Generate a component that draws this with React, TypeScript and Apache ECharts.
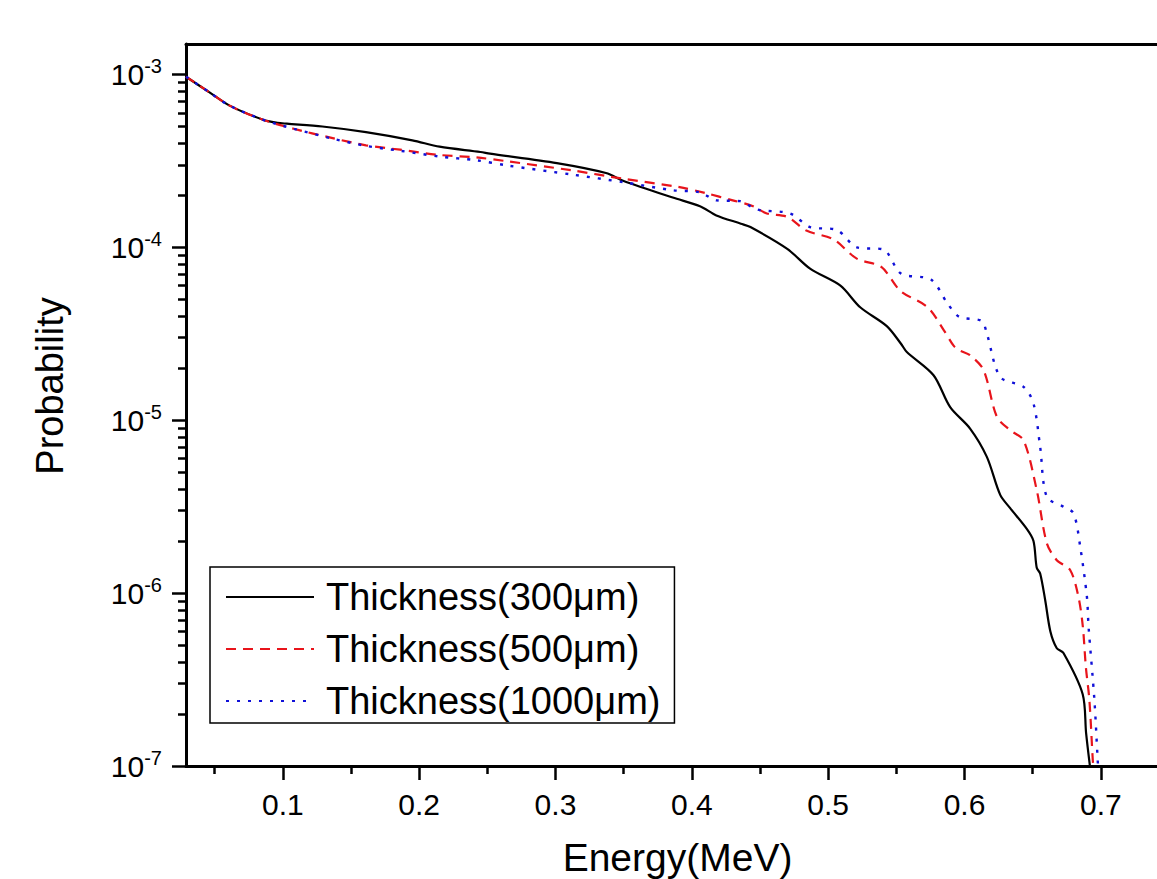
import React, { useEffect, useRef } from "react";
import * as echarts from "echarts";

const FONT = "'Liberation Sans', Arial, sans-serif";

const seriesNames = ["Thickness(300μm)", "Thickness(500μm)", "Thickness(1000μm)"];

const energy300 = [
  0.029, 0.046, 0.061, 0.0855, 0.096, 0.103, 0.129, 0.161, 0.195, 0.215, 0.245, 0.252,
  0.301, 0.337, 0.35, 0.386, 0.406, 0.418, 0.436, 0.443, 0.47, 0.487, 0.509, 0.5235,
  0.543, 0.5534, 0.5577, 0.5773, 0.5895, 0.6041, 0.6164, 0.6262, 0.6335, 0.6457, 0.6506,
  0.653, 0.6555, 0.6592, 0.663, 0.6677, 0.6726, 0.6867, 0.6892, 0.692,
];
const prob300 = [
  9.7e-4, 7.9e-4, 6.6e-4, 5.47e-4, 5.25e-4, 5.19e-4, 5.0e-4, 4.64e-4, 4.16e-4, 3.82e-4, 3.56e-4, 3.48e-4,
  3.07e-4, 2.69e-4, 2.42e-4, 1.94e-4, 1.73e-4, 1.53e-4, 1.37e-4, 1.31e-4, 9.8e-5, 7.5e-5, 6.0e-5, 4.5e-5,
  3.5e-5, 2.77e-5, 2.48e-5, 1.82e-5, 1.19e-5, 8.95e-6, 6.14e-6, 3.7e-6, 3.1e-6, 2.35e-6, 2.0e-6,
  1.4e-6, 1.3e-6, 9.1e-7, 6.0e-7, 4.8e-7, 4.5e-7, 2.6e-7, 1.55e-7, 1.0e-7,
];

const energy500 = [
  0.029, 0.046, 0.061, 0.0855, 0.108, 0.135, 0.161, 0.186, 0.215, 0.242, 0.264, 0.313,
  0.35, 0.391, 0.41, 0.43, 0.445, 0.455, 0.47, 0.484, 0.504, 0.521, 0.539, 0.553,
  0.573, 0.585, 0.592, 0.5962, 0.604, 0.614, 0.6237, 0.6335, 0.6433, 0.653, 0.6604,
  0.6677, 0.6775, 0.6836, 0.6868, 0.689, 0.6916, 0.6941, 0.6945,
];
const prob500 = [
  9.7e-4, 7.9e-4, 6.6e-4, 5.47e-4, 4.85e-4, 4.31e-4, 3.89e-4, 3.67e-4, 3.42e-4, 3.31e-4, 3.15e-4, 2.78e-4,
  2.49e-4, 2.23e-4, 2.06e-4, 1.87e-4, 1.73e-4, 1.57e-4, 1.5e-4, 1.25e-4, 1.11e-4, 8.6e-5, 7.7e-5, 5.6e-5,
  4.5e-5, 3.3e-5, 2.7e-5, 2.54e-5, 2.38e-5, 1.95e-5, 1.05e-5, 8.75e-6, 7.66e-6, 3.94e-6, 1.94e-6,
  1.55e-6, 1.36e-6, 9.5e-7, 6.4e-7, 3.75e-7, 2.41e-7, 1.08e-7, 1.0e-7,
];

const energy1000 = [
  0.029, 0.046, 0.061, 0.0855, 0.108, 0.135, 0.161, 0.186, 0.215, 0.242, 0.264, 0.313,
  0.35, 0.386, 0.406, 0.418, 0.4355, 0.4452, 0.4501, 0.4721, 0.4868, 0.5064, 0.521, 0.5406,
  0.5534, 0.5754, 0.5876, 0.5962, 0.6125, 0.6164, 0.6262, 0.6433, 0.6506, 0.6555, 0.6604,
  0.6726, 0.68, 0.6849, 0.6898, 0.691, 0.6953, 0.6977, 0.698,
];
const prob1000 = [
  9.7e-4, 7.9e-4, 6.6e-4, 5.47e-4, 4.85e-4, 4.28e-4, 3.86e-4, 3.62e-4, 3.35e-4, 3.19e-4, 2.98e-4, 2.63e-4,
  2.38e-4, 2.14e-4, 2.08e-4, 1.87e-4, 1.85e-4, 1.69e-4, 1.64e-4, 1.57e-4, 1.31e-4, 1.26e-4, 1.0e-4, 9.7e-5,
  7.05e-5, 6.51e-5, 4.73e-5, 3.96e-5, 3.75e-5, 3.17e-5, 1.78e-5, 1.56e-5, 1.25e-5, 7.0e-6, 3.6e-6,
  3.16e-6, 2.89e-6, 1.85e-6, 9.5e-7, 6.4e-7, 2.4e-7, 1.08e-7, 1.0e-7,
];

const xMajorTicks = [0.1, 0.2, 0.3, 0.4, 0.5, 0.6, 0.7];
const xMinorTicks = [0.05, 0.15, 0.25, 0.35, 0.45, 0.55, 0.65, 0.75];
const yMajorTicks = [1e-7, 1e-6, 1e-5, 1e-4, 1e-3];
const yMinorMantissas = [2, 3, 4, 5, 6, 7, 8, 9];
const yMinorTicks = yMajorTicks.flatMap((d) => yMinorMantissas.map((m) => m * d));

const X_MIN = 0.029;
const X_MAX = 0.75;
const Y_MIN = 1e-7;
const Y_MAX = 1.5e-3;

export default function App() {
  const ref = useRef<HTMLDivElement>(null);

  useEffect(() => {
    document.body.style.margin = "0";
    const chart = echarts.init(ref.current!, null, { renderer: "svg" });
    const axisLineStyle = { color: "#000", width: 3 };
    const tickStyle = { color: "#000", width: 2.5 };

    const option: any = {
      animation: false,
      backgroundColor: "#fff",
      grid: {
        left: 186,
        top: 44,
        width: 983,
        height: 722,
        containLabel: false,
        outerBoundsMode: "none",
      },
      xAxis: [
        {
          type: "value",
          min: X_MIN,
          max: X_MAX,
          position: "bottom",
          name: "Energy(MeV)",
          nameLocation: "middle",
          nameGap: 72,
          nameTextStyle: { fontSize: 39, fontFamily: FONT, color: "#000" },
          axisLine: { show: true, onZero: false, lineStyle: axisLineStyle },
          axisTick: { show: true, inside: false, customValues: xMajorTicks, length: 14, lineStyle: tickStyle },
          axisLabel: {
            show: true,
            customValues: xMajorTicks,
            fontSize: 30,
            fontFamily: FONT,
            color: "#000",
            margin: 23,
            formatter: (v: number) => v.toFixed(1),
          },
          splitLine: { show: false },
        },
        {
          type: "value",
          min: X_MIN,
          max: X_MAX,
          position: "bottom",
          axisLine: { show: false, onZero: false },
          axisTick: { show: true, inside: false, customValues: xMinorTicks, length: 8, lineStyle: tickStyle },
          axisLabel: { show: false },
          splitLine: { show: false },
        },
        {
          type: "value",
          min: X_MIN,
          max: X_MAX,
          position: "top",
          axisLine: { show: true, onZero: false, lineStyle: axisLineStyle },
          axisTick: { show: false },
          axisLabel: { show: false },
          splitLine: { show: false },
        },
      ],
      yAxis: [
        {
          type: "log",
          logBase: 10,
          min: Y_MIN,
          max: Y_MAX,
          position: "left",
          axisLine: { show: true, onZero: false, lineStyle: axisLineStyle },
          axisTick: { show: true, inside: false, customValues: yMajorTicks, length: 14, lineStyle: tickStyle },
          axisLabel: {
            show: true,
            customValues: yMajorTicks,
            margin: 24,
            fontSize: 30,
            color: "#000",
            fontFamily: FONT,
            formatter: (v: number) => `{b|10}{s|${Math.round(Math.log10(v))}}`,
            rich: {
              b: { fontSize: 30, fontFamily: FONT, color: "#000", lineHeight: 36 },
              s: { fontSize: 20, fontFamily: FONT, color: "#000", verticalAlign: "top" },
            },
          },
          splitLine: { show: false },
          minorTick: { show: false },
        },
        {
          type: "log",
          logBase: 10,
          min: Y_MIN,
          max: Y_MAX,
          position: "left",
          axisLine: { show: false, onZero: false },
          axisTick: { show: true, inside: false, customValues: yMinorTicks, length: 8, lineStyle: tickStyle },
          axisLabel: { show: false },
          splitLine: { show: false },
        },
      ],
      legend: {
        orient: "vertical",
        left: 210,
        top: 567,
        itemWidth: 88,
        itemHeight: 14,
        itemGap: 12,
        padding: [10, 14, 2, 15],
        borderColor: "#000",
        borderWidth: 1.5,
        backgroundColor: "#fff",
        itemStyle: { opacity: 0 },
        textStyle: { fontSize: 38, fontFamily: FONT, color: "#000", lineHeight: 40, padding: [0, 0, 0, 7] },
        data: seriesNames,
      },
      graphic: [
        {
          type: "text",
          x: 50,
          y: 386,
          rotation: Math.PI / 2,
          style: {
            text: "Probability",
            fontSize: 38,
            fontFamily: FONT,
            fill: "#000",
            align: "center",
            verticalAlign: "middle",
          },
        },
      ],
      series: [
        {
          name: seriesNames[0],
          type: "line",
          symbol: "none",
          smooth: 0.3,
          data: energy300.map((e, i) => [e, prob300[i]]),
          lineStyle: { color: "#000", width: 2.2, type: "solid" },
          itemStyle: { color: "#000" },
        },
        {
          name: seriesNames[1],
          type: "line",
          symbol: "none",
          smooth: 0.3,
          data: energy500.map((e, i) => [e, prob500[i]]),
          lineStyle: { color: "#e8141b", width: 2.2, type: [10, 7] },
          itemStyle: { color: "#e8141b" },
        },
        {
          name: seriesNames[2],
          type: "line",
          symbol: "none",
          smooth: 0.3,
          data: energy1000.map((e, i) => [e, prob1000[i]]),
          lineStyle: { color: "#1010d8", width: 2.4, type: [3, 8] },
          itemStyle: { color: "#1010d8" },
        },
      ],
    };
    chart.setOption(option);
    return () => chart.dispose();
  }, []);

  return <div ref={ref} style={{ width: 1157, height: 879 }} />;
}
